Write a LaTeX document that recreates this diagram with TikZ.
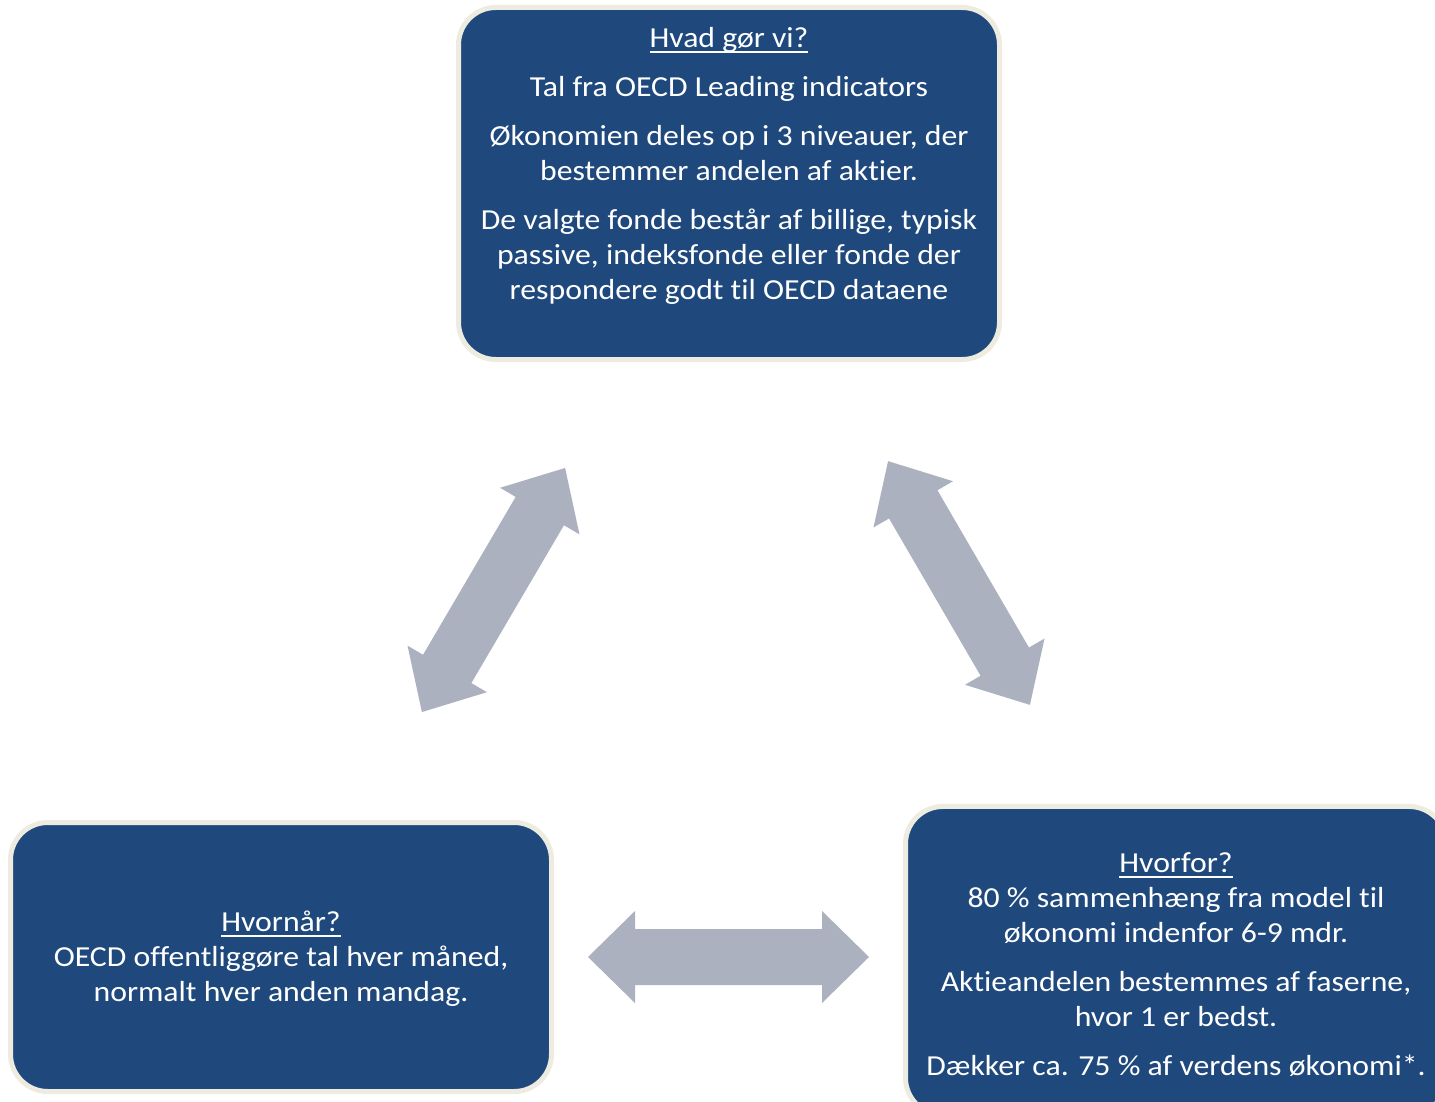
\documentclass[tikz,border=0pt]{standalone}
\usepackage{fontspec}
\setmainfont{Carlito}[FakeStretch=1.095, Ligatures={NoCommon,NoRequired,NoContextual}]
\definecolor{boxblue}{HTML}{1F497D}
\definecolor{boxrim}{HTML}{EEECE1}
\definecolor{arrowgray}{HTML}{ACB1BF}
\newcommand\ulin[1]{\setbox0=\hbox{#1}\rlap{\rule[-4.5pt]{\wd0}{1.5pt}}\box0}
\newcommand\blockarrow[4]{% center, angle, half-length, head length
  \begin{scope}[shift={#1}, rotate=#2]
    \fill[arrowgray] (-#3,0) -- (-#3+#4,-46) -- (-#3+#4,-28) -- (#3-#4,-28) -- (#3-#4,-46) -- (#3,0)
      -- (#3-#4,46) -- (#3-#4,28) -- (-#3+#4,28) -- (-#3+#4,46) -- cycle;
  \end{scope}}
\begin{document}
\begin{tikzpicture}[x=0.75pt,y=-0.75pt,
  card/.style={draw=boxrim, line width=3.75pt, fill=boxblue, rounded corners=28pt,
    minimum width=405.75pt, inner sep=0pt},
  txt/.style={text=white, font=\fontsize{21.75pt}{26pt}\selectfont, anchor=base, inner sep=0pt}]
\useasboundingbox (0,0) rectangle (1435,1102);
\clip (0,0) rectangle (1435,1102);
\fill[white] (0,0) rectangle (1435,1102);

% boxes
\node[card, minimum height=264pt] (top) at (729,183.5) {};
\node[card, minimum height=201.75pt] (left) at (281,957) {};
\node[card, minimum height=231.4pt] (right) at (1176,960.75) {};

% top text
\node[txt] (t0) at (729,47.5) {\ulin{Hvad gør vi?}};
\node[txt] (t1) at (729,96.5) {Tal fra OECD Leading indicators};
\node[txt] (t2) at (729,145.5) {Økonomien deles op i 3 niveauer, der};
\node[txt] (t3) at (729,180.5) {bestemmer andelen af aktier.};
\node[txt] (t4) at (729,229.5) {De valgte fonde består af billige, typisk};
\node[txt] (t5) at (729,264.5) {passive, indeksfonde eller fonde der};
\node[txt] (t6) at (729,299.5) {respondere godt til OECD dataene};

% left text
\node[txt] (l0) at (281,931) {\ulin{Hvornår?}};
\node[txt] (l1) at (281,966) {OECD offentliggøre tal hver måned,};
\node[txt] (l2) at (281,1001) {normalt hver anden mandag.};

% right text
\node[txt] (r0) at (1176,872) {\ulin{Hvorfor?}};
\node[txt] (r1) at (1176,907) {80 \% sammenhæng fra model til};
\node[txt] (r2) at (1176,942) {økonomi indenfor 6-9 mdr.};
\node[txt] (r3) at (1176,991) {Aktieandelen bestemmes af faserne,};
\node[txt] (r4) at (1176,1026) {hvor 1 er bedst.};
\node[txt] (r5) at (1176,1075) {Dækker ca. 75 \% af verdens økonomi*.};

% arrows
\blockarrow{(493.5,590)}{59.6}{141.5}{50}
\blockarrow{(959,583)}{-59.8}{141}{50}
\blockarrow{(728.5,957)}{0}{140.5}{47}
\end{tikzpicture}
\end{document}
